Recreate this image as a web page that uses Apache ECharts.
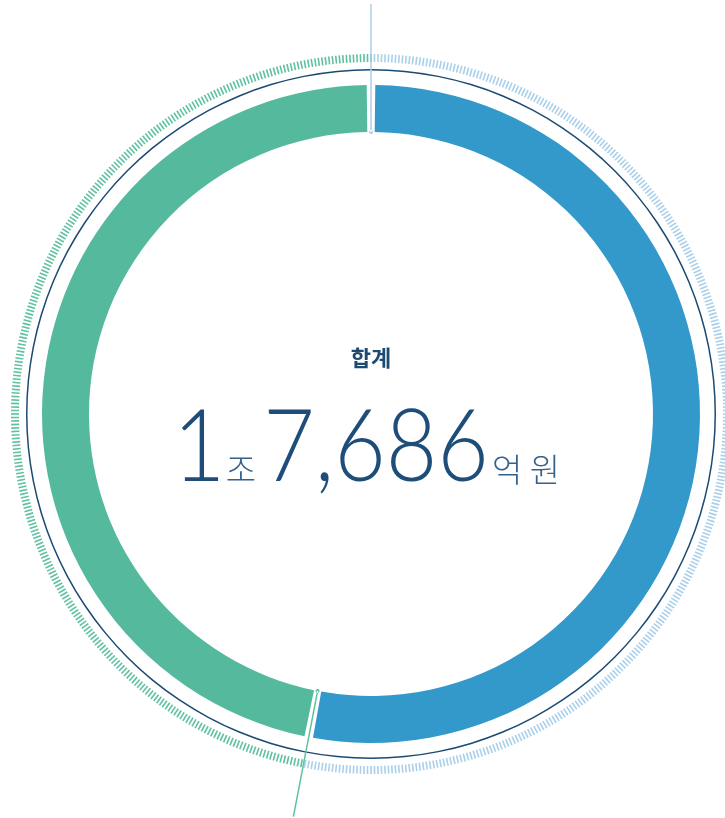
<!DOCTYPE html>
<html>
<head>
<meta charset="utf-8">
<script src="https://cdn.jsdelivr.net/npm/echarts@6/dist/echarts.min.js"></script>
<style>
  html, body { margin: 0; padding: 0; background: #fff; }
  #chart { width: 725px; height: 818px; }
</style>
</head>
<body>
<div id="chart"></div>
<script>
const categories = ['구분 A', '구분 B']
const values = [9379, 8307]
const segColors = ['#3399cb', '#55ba9d']
const tickColors = ['#a9d0eb', '#5fc1a1']
const lineColors = ['#a9d0eb', '#5fc1a1']
const titleText = '합계'
const unitJo = '조'
const unitEok = '억 원'

const total = values.reduce((a, b) => a + b, 0)
const jo = Math.floor(total / 10000)
const eok = (total % 10000).toLocaleString('en-US')
const blueFrac = values[0] / total

const cx = 371
const cy = 414
const center = [cx, cy]

const chart = echarts.init(document.getElementById('chart'), null, { renderer: 'canvas' })

const hidden = {
  splitLine: { show: false },
  axisLabel: { show: false },
  detail: { show: false },
  title: { show: false },
  anchor: { show: false },
  progress: { show: false }
}

const numStyle = {
  align: 'center',
  verticalAlign: 'middle',
  fontFamily: 'Lato',
  fontWeight: 300,
  fontSize: 101,
  fill: '#1e4d79'
}
const unitStyle = {
  align: 'center',
  verticalAlign: 'middle',
  fontFamily: 'Noto Sans CJK KR',
  fontWeight: 300,
  fontSize: 33,
  fill: '#34628b'
}

chart.setOption({
  animation: false,
  graphic: [
    {
      type: 'text',
      x: cx,
      y: 358,
      style: {
        text: titleText,
        align: 'center',
        verticalAlign: 'middle',
        fontFamily: 'Noto Sans CJK KR',
        fontWeight: 'bold',
        fontSize: 22,
        fill: '#1c4a73'
      }
    },
    { type: 'text', x: 199, y: 448, scaleX: 0.9, style: { ...numStyle, text: String(jo) } },
    { type: 'text', x: 241, y: 469, style: { ...unitStyle, text: unitJo } },
    { type: 'text', x: 376, y: 448, scaleX: 0.88, style: { ...numStyle, text: eok } },
    { type: 'text', x: 526, y: 469, style: { ...unitStyle, text: unitEok } }
  ],
  series: [
    {
      type: 'pie',
      center: center,
      radius: [282, 329],
      startAngle: 90,
      clockwise: true,
      padAngle: 1.5,
      silent: true,
      label: { show: false },
      labelLine: { show: false },
      data: categories.map((name, i) => ({
        name,
        value: values[i],
        itemStyle: { color: segColors[i] }
      }))
    },
    {
      // outer tick ring, coloured per segment
      type: 'gauge',
      center: center,
      radius: 360,
      startAngle: 90,
      endAngle: -270,
      min: 0,
      max: total,
      splitNumber: 1,
      silent: true,
      axisLine: {
        show: false,
        lineStyle: { width: 0, color: [[blueFrac, tickColors[0]], [1, tickColors[1]]] }
      },
      axisTick: {
        show: true,
        splitNumber: 640,
        length: 8,
        distance: 0,
        lineStyle: { color: 'auto', width: 1.6 }
      },
      pointer: { show: false },
      ...hidden,
      data: []
    },
    {
      // thin navy ring
      type: 'gauge',
      center: center,
      radius: 345,
      startAngle: 90,
      endAngle: -270,
      silent: true,
      axisLine: { show: true, lineStyle: { width: 1.5, color: [[1, '#1b4a73']] } },
      axisTick: { show: false },
      pointer: { show: false },
      ...hidden,
      data: []
    },
    {
      // radial separators at segment boundaries
      type: 'gauge',
      center: center,
      radius: 410,
      startAngle: 90,
      endAngle: -270,
      min: 0,
      max: total,
      silent: true,
      z: 5,
      axisLine: { show: false, lineStyle: { width: 0 } },
      axisTick: { show: false },
      pointer: {
        show: true,
        icon: 'path://M1.25,0 L2.75,0 L2.75,128 L1.25,128 Z M0,128 A2,2 0 1,0 4,128 A2,2 0 1,0 0,128 Z',
        keepAspect: false,
        width: 4,
        length: 130,
        offsetCenter: [0, -280]
      },
      ...hidden,
      data: [
        { value: 0, itemStyle: { color: lineColors[0] } },
        { value: values[0], itemStyle: { color: lineColors[1] } }
      ]
    }
  ]
})
</script>
</body>
</html>
